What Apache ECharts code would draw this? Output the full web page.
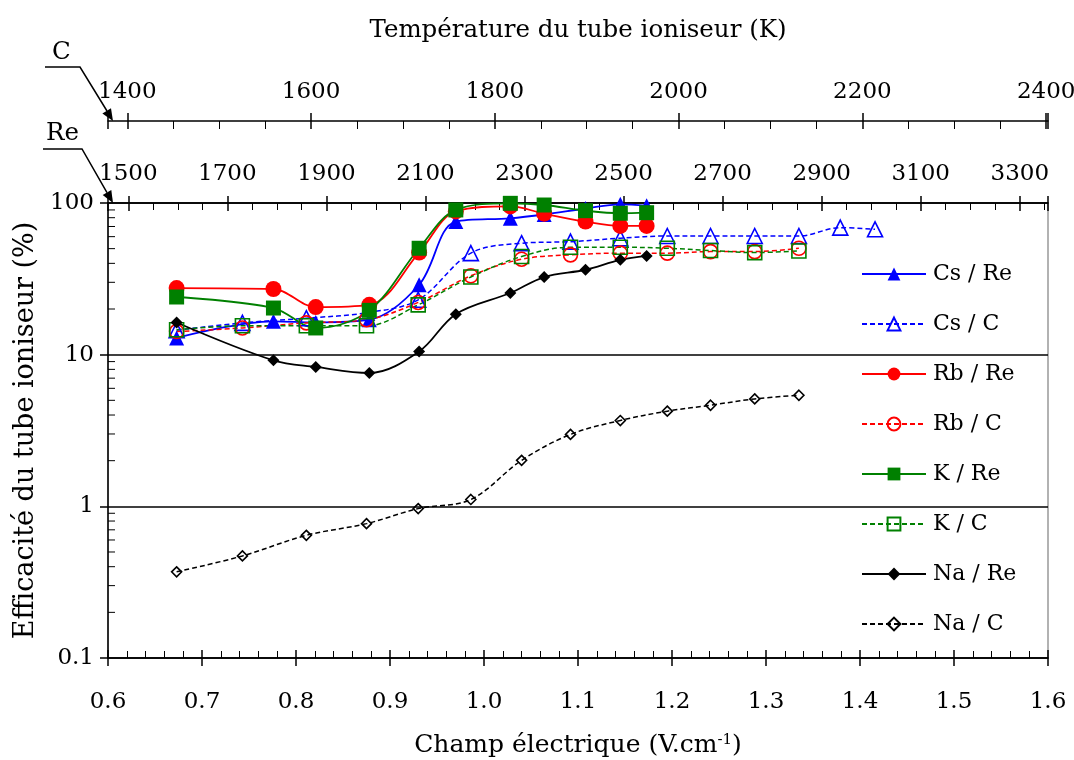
<!DOCTYPE html>
<html>
<head>
<meta charset="utf-8">
<script src="https://cdn.jsdelivr.net/npm/echarts@6/dist/echarts.min.js"></script>
<style>
  html, body { margin: 0; padding: 0; background: #fff; overflow: hidden; }
  #chart { width: 1074px; height: 760px; }
</style>
</head>
<body>
<div id="chart"></div>
<script>
// champ électrique des points (V/cm)
var xRe = [0.673, 0.776, 0.821, 0.878, 0.931, 0.970, 1.028, 1.064, 1.108, 1.145, 1.173];
var xC = [0.673, 0.743, 0.811, 0.875, 0.930, 0.986, 1.040, 1.092, 1.145, 1.195, 1.241, 1.288, 1.335, 1.379, 1.416];

// efficacité (%)
var csRe = [12.9, 16.6, 16.3, 17.0, 28.9, 75.4, 79.3, 84.0, 92.0, 98.0, 96.0];
var csC = [14.5, 16.2, 17.4, 18.9, 23.0, 46.7, 54.3, 55.6, 58.6, 60.6, 60.6, 60.6, 60.6, 68.8, 67.1];
var rbRe = [27.5, 27.1, 20.6, 21.3, 47.1, 88.0, 95.0, 85.0, 75.4, 70.6, 70.6];
var rbC = [14.2, 15.0, 16.2, 17.0, 22.1, 33.1, 42.6, 45.5, 46.7, 46.7, 47.8, 47.8, 50.3];
var kRe = [24.0, 20.3, 15.0, 19.6, 50.3, 90.0, 99.5, 97.0, 89.0, 85.6, 86.3];
var kC = [14.6, 15.5, 15.5, 15.5, 21.3, 32.5, 44.4, 51.1, 51.1, 50.3, 48.6, 47.1, 48.3];
var naRe = [16.3, 9.17, 8.30, 7.58, 10.5, 18.5, 25.5, 32.5, 36.3, 42.2, 44.8];
var naC = [0.37, 0.471, 0.644, 0.769, 0.966, 1.11, 2.01, 2.98, 3.68, 4.24, 4.64, 5.11, 5.40];

// axes
var fieldRange = [0.6, 1.6];
var effRange = [0.1, 100];
var tempC = [1379, 2402];     // température tube C (K)
var tempRe = [1459, 3357];    // température tube Re (K)
var reBase = 1500;            // les graduations Re tombent sur 1500, 1700, ...
var yMinor = [0.2, 0.3, 0.4, 0.5, 0.6, 0.7, 0.8, 0.9, 2, 3, 4, 5, 6, 7, 8, 9, 20, 30, 40, 50, 60, 70, 80, 90];

var FONT = 'DejaVu Serif';
var chart = echarts.init(document.getElementById('chart'), null, {renderer: 'canvas'});

function zip(xs, ys) {
  return ys.map(function (v, i) { return [xs[i], v]; });
}

function mkSeries(name, xs, ys, color, symbol, size, dashed) {
  return {
    name: name,
    type: 'line',
    data: zip(xs, ys),
    smooth: 0.35,
    symbol: symbol,
    symbolSize: size,
    showAllSymbol: true,
    lineStyle: {color: color, width: dashed ? 1.5 : 1.8, type: dashed ? [5, 3] : 'solid'},
    itemStyle: dashed
      ? {color: 'rgba(0,0,0,0)', borderColor: color, borderWidth: 1.6}
      : {color: color, borderColor: color, borderWidth: 0},
    emphasis: {disabled: true}
  };
}

var axisLineStyle = {color: '#000', width: 1.5};

function dupAxis(pos, min, max, extra) {
  var a = {
    type: 'value', position: pos, min: min, max: max,
    axisLine: {show: false},
    axisTick: {show: true, inside: true, length: 8, lineStyle: axisLineStyle},
    axisLabel: {show: false},
    splitLine: {show: false}
  };
  for (var k in extra) a[k] = extra[k];
  return a;
}

var option = {
  backgroundColor: '#fff',
  animation: false,
  grid: {left: 108, right: 26, top: 203, bottom: 102, outerBoundsMode: 'none', containLabel: false,
    show: true, borderColor: '#999', borderWidth: 1.5},
  legend: {
    orient: 'vertical',
    left: 856,
    top: 256,
    itemWidth: 64,
    itemHeight: 16,
    itemGap: 24,
    textStyle: {color: '#000', fontSize: 22, fontFamily: FONT, lineHeight: 26, padding: [0, 0, 0, 2]},
    data: ['Cs / Re', 'Cs / C', 'Rb / Re', 'Rb / C', 'K / Re', 'K / C', 'Na / Re', 'Na / C']
  },
  xAxis: [
    {
      type: 'value', position: 'bottom', min: fieldRange[0], max: fieldRange[1], interval: 0.1,
      axisLine: {onZero: false, lineStyle: axisLineStyle},
      axisTick: {inside: false, length: 8, lineStyle: axisLineStyle},
      minorTick: {show: true, splitNumber: 5, length: -7, lineStyle: {color: '#000', width: 1}},
      axisLabel: {margin: 33, formatter: function (v) { return v.toFixed(1); }, color: '#000', fontSize: 23, fontFamily: FONT},
      splitLine: {show: false},
      name: 'Champ électrique (V.cm{sup|-1})',
      nameLocation: 'middle',
      nameGap: 75,
      nameTextStyle: {color: '#000', fontSize: 25, fontFamily: FONT,
        rich: {sup: {fontSize: 15, fontFamily: FONT, color: '#000', verticalAlign: 'top'}}}
    },
    dupAxis('bottom', fieldRange[0], fieldRange[1], {interval: 0.1}),
    {
      type: 'value', position: 'top', offset: 0,
      min: tempRe[0] - reBase, max: tempRe[1] - reBase, splitNumber: 9,
      axisLine: {onZero: false, lineStyle: axisLineStyle},
      axisTick: {inside: false, length: 7, lineStyle: axisLineStyle},
      minorTick: {show: true, splitNumber: 4, length: -7, lineStyle: {color: '#000', width: 1}},
      axisLabel: {margin: 17, showMinLabel: false, showMaxLabel: false,
        formatter: function (v) { return String(v + reBase); }, color: '#000', fontSize: 23, fontFamily: FONT},
      splitLine: {show: false}
    },
    dupAxis('top', tempRe[0] - reBase, tempRe[1] - reBase, {splitNumber: 9, offset: 0}),
    {
      type: 'value', position: 'top', offset: 82,
      min: tempC[0], max: tempC[1], splitNumber: 5,
      axisLine: {onZero: false, lineStyle: axisLineStyle},
      axisTick: {inside: false, length: 8, lineStyle: axisLineStyle},
      minorTick: {show: true, splitNumber: 4, length: -8, lineStyle: {color: '#000', width: 1}},
      axisLabel: {margin: 17, showMinLabel: false, showMaxLabel: false,
        formatter: function (v) { return String(v); }, color: '#000', fontSize: 23, fontFamily: FONT},
      splitLine: {show: false},
      name: 'Température du tube ioniseur (K)',
      nameLocation: 'middle',
      nameGap: 78,
      nameTextStyle: {color: '#000', fontSize: 24.5, fontFamily: FONT}
    },
    dupAxis('top', tempC[0], tempC[1], {splitNumber: 5, offset: 82})
  ],
  yAxis: {
    type: 'log', logBase: 10, min: effRange[0], max: effRange[1],
    axisLine: {onZero: false, lineStyle: axisLineStyle},
    axisTick: {inside: false, length: 8, lineStyle: axisLineStyle},
    axisLabel: {margin: 14, color: '#000', fontSize: 23, fontFamily: FONT},
    splitLine: {show: true, lineStyle: {color: '#000', width: 1.5}},
    name: 'Efficacité du tube ioniseur (%)',
    nameLocation: 'middle',
    nameGap: 68,
    nameTextStyle: {color: '#000', fontSize: 27, fontFamily: FONT}
  },
  graphic: [
    {type: 'text', left: 52, top: 40, style: {text: 'C', fill: '#000', font: '24.5px "DejaVu Serif"'}},
    {type: 'polyline', shape: {points: [[45, 67], [80, 67], [107, 111]]}, style: {stroke: '#000', lineWidth: 1.5, fill: null}},
    {type: 'polygon', shape: {points: [[113, 121], [102.4, 113.4], [111, 108.2]]}, style: {fill: '#000'}},
    {type: 'text', left: 46, top: 121, style: {text: 'Re', fill: '#000', font: '24.5px "DejaVu Serif"'}},
    {type: 'polyline', shape: {points: [[43, 149], [82, 149], [107, 192.6]]}, style: {stroke: '#000', lineWidth: 1.5, fill: null}},
    {type: 'polygon', shape: {points: [[113, 203], [102.7, 195.1], [111.3, 190.1]]}, style: {fill: '#000'}}
  ],
  series: [
    {
      type: 'custom',
      silent: true,
      clip: false,
      data: yMinor.map(function (v) { return [fieldRange[0], v]; }),
      renderItem: function (params, api) {
        var p = api.coord([api.value(0), api.value(1)]);
        return {type: 'line', shape: {x1: p[0], y1: p[1], x2: p[0] + 7, y2: p[1]}, style: {stroke: '#000', lineWidth: 1}};
      }
    },
    mkSeries('Cs / Re', xRe, csRe, '#0000ff', 'triangle', 15, false),
    mkSeries('Cs / C', xC, csC, '#0000ff', 'triangle', 15, true),
    mkSeries('Rb / Re', xRe, rbRe, '#ff0000', 'circle', 16, false),
    mkSeries('Rb / C', xC, rbC, '#ff0000', 'circle', 14, true),
    mkSeries('K / Re', xRe, kRe, '#008000', 'rect', 15, false),
    mkSeries('K / C', xC, kC, '#008000', 'rect', 14, true),
    mkSeries('Na / Re', xRe, naRe, '#000000', 'diamond', 12, false),
    mkSeries('Na / C', xC, naC, '#000000', 'diamond', 10, true)
  ]
};
chart.setOption(option);
</script>
</body>
</html>
